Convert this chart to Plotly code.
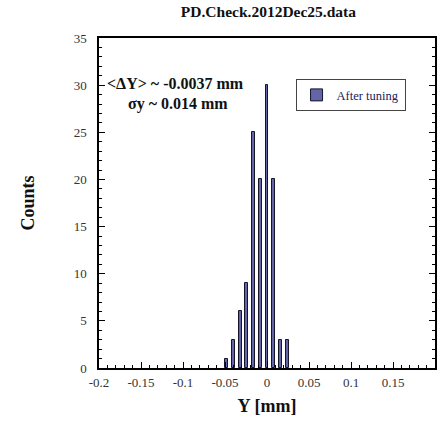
import plotly.graph_objects as go

bin_centers = [-0.048, -0.040, -0.032, -0.024, -0.016, -0.008, 0.0, 0.008, 0.016, 0.024]
counts = [1, 3, 6, 9, 25, 20, 30, 20, 3, 3]
series_name = "After tuning"
title_text = "PD.Check.2012Dec25.data"
note1 = "<ΔY> ~ -0.0037 mm"
note2 = "σy ~ 0.014 mm"
x_ticks = [-0.2, -0.15, -0.1, -0.05, 0, 0.05, 0.1, 0.15, 0.2]
x_labels = ["-0.2", "-0.15", "-0.1", "-0.05", "0", "0.05", "0.1", "0.15", "0.2"]
y_ticks = [0, 5, 10, 15, 20, 25, 30, 35]

serif = "Liberation Serif, Times New Roman, serif"

fig = go.Figure()
fig.add_trace(go.Bar(
    x=bin_centers, y=counts, name=series_name, width=0.0035,
    marker=dict(color="#6464a8", line=dict(color="#15152a", width=1)),
    showlegend=True,
))

axis_common = dict(
    showline=True, linecolor="black", linewidth=1.5,
    ticks="inside", ticklen=6, tickcolor="black", tickwidth=1,
    showgrid=False, zeroline=False,
    tickfont=dict(family=serif, size=13, color="#333333"),
)

fig.update_xaxes(
    range=[-0.2, 0.2], tickvals=x_ticks, ticktext=x_labels, mirror=True,
    minor=dict(dtick=0.01, ticks="inside", ticklen=3, tickcolor="black", showgrid=False),
    title=dict(text="<b>Y [mm]</b>", font=dict(family=serif, size=18, color="#111"), standoff=10),
    ticklabelstandoff=2,
    **axis_common,
)
fig.update_yaxes(
    range=[0, 35], tickvals=y_ticks, mirror="ticks",
    minor=dict(dtick=1, ticks="inside", ticklen=3, tickcolor="black", showgrid=False),
    title=dict(text="<b>Counts</b>", font=dict(family=serif, size=18, color="#111"), standoff=34),
    ticklabelstandoff=8,
    **axis_common,
)

fig.add_annotation(x=0.228, y=0.862, xref="paper", yref="paper", text="<b>" + note1.replace("<", "&lt;").replace(">", "&gt;") + "</b>",
                   showarrow=False, font=dict(family=serif, size=16, color="#111"), xanchor="center", yanchor="middle")
fig.add_annotation(x=0.235, y=0.799, xref="paper", yref="paper", text="<b>" + note2 + "</b>",
                   showarrow=False, font=dict(family=serif, size=16, color="#111"), xanchor="center", yanchor="middle")

fig.update_layout(
    width=440, height=429,
    margin=dict(l=99, r=3, t=38, b=61),
    paper_bgcolor="white", plot_bgcolor="white",
    title=dict(text="<b>" + title_text + "</b>", x=0.61, xanchor="center", y=0.972, yanchor="middle",
               font=dict(family=serif, size=15.5, color="#111")),
    legend=dict(x=0.585, y=0.875, xanchor="left", yanchor="top",
                bordercolor="#444", borderwidth=1, bgcolor="white",
                font=dict(family=serif, size=12.5, color="#202060"),
                itemwidth=30, tracegroupgap=0),
    bargap=0,
)

fig.write_html("out.html")
